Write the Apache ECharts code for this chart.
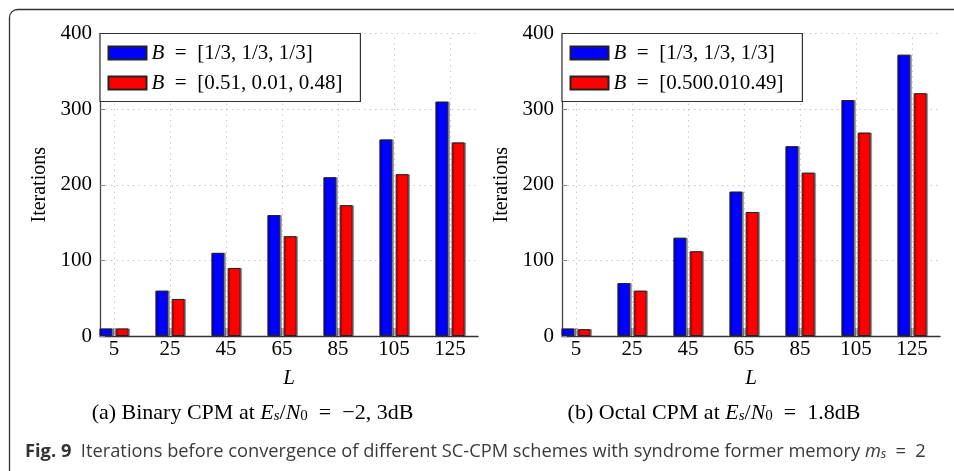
<!DOCTYPE html>
<html>
<head>
<meta charset="utf-8">
<script src="https://cdn.jsdelivr.net/npm/echarts@6/dist/echarts.min.js"></script>
<style>html,body{margin:0;padding:0;background:#fff}#c{width:954px;height:471px}</style>
</head>
<body>
<div id="c"></div>
<script>
// ---- data ----
const lengths = [5, 25, 45, 65, 85, 105, 125];
const binaryUniform = [10, 60, 110, 160, 210, 260, 310];
const binaryOptimized = [10, 49, 90, 132, 173, 214, 256];
const octalUniform = [10, 70, 130, 191, 251, 312, 372];
const octalOptimized = [9, 60, 112, 164, 216, 269, 321];
const yTicks = [0, 100, 200, 300, 400];
const nameUniform = 'B = [1/3, 1/3, 1/3]';
const nameBinaryOpt = 'B = [0.51, 0.01, 0.48]';
const nameOctalOpt = 'B = [0.500.010.49]';

const SERIF = '"Liberation Serif", "DejaVu Serif", serif';
const SANS = '"Open Sans", "Noto Sans", sans-serif';
const EN = '\u2002';

const pairs = vals => lengths.map((l, i) => [l, vals[i]]);

const chart = echarts.init(document.getElementById('c'), null, {renderer: 'canvas'});

function xAxisFor(gi) {
  return {
    type: 'value', gridIndex: gi, min: 0, max: 135,
    name: 'L', nameLocation: 'middle', nameGap: 32,
    nameTextStyle: {fontFamily: SERIF, fontSize: 21, fontStyle: 'italic', color: '#000'},
    axisLine: {show: true, onZero: false, lineStyle: {color: '#333', width: 1.3}},
    axisTick: {show: true, inside: true, length: 8, customValues: lengths, lineStyle: {color: '#aaa', width: 3}},
    axisLabel: {customValues: lengths, fontFamily: SERIF, fontSize: 21, color: '#000', margin: 3},
    splitLine: {show: false}
  };
}
function yAxisFor(gi) {
  return {
    type: 'value', gridIndex: gi, min: 0, max: 400, interval: 100,
    name: 'Iterations', nameLocation: 'middle', nameGap: 50, nameRotate: 90,
    nameTextStyle: {fontFamily: SERIF, fontSize: 20, color: '#000'},
    axisLine: {show: true, lineStyle: {color: '#444', width: 1.3}},
    axisTick: {show: true, inside: true, length: 5, lineStyle: {color: '#888'}},
    axisLabel: {customValues: yTicks, fontFamily: SERIF, fontSize: 21, color: '#000', margin: 8},
    splitLine: {show: true, lineStyle: {color: '#c8c8c8', type: [1.5, 4], width: 1}}
  };
}
function barSeries(name, vals, gi, color) {
  return {
    type: 'bar', name, xAxisIndex: gi, yAxisIndex: gi, data: pairs(vals),
    barWidth: 13, barGap: '25%', z: 3,
    itemStyle: {color, borderColor: '#222', borderWidth: 1,
      shadowColor: 'rgba(0,0,0,0.3)', shadowOffsetX: 1.5, shadowOffsetY: 0, shadowBlur: 0}
  };
}
function gridLines(gi) {
  return {
    type: 'line', xAxisIndex: gi, yAxisIndex: gi, data: [], silent: true, z: 1,
    markLine: {
      silent: true, symbol: ['none', 'none'], label: {show: false},
      lineStyle: {color: '#c8c8c8', type: [1.5, 4], width: 1},
      data: lengths.map(l => ({xAxis: l}))
    }
  };
}
function legendFor(names, left, padRight) {
  return {
    orient: 'vertical', left, top: 33.5, selectedMode: false,
    data: names, icon: 'rect', itemWidth: 38, itemHeight: 13, itemGap: 9,
    padding: [9, padRight, 8, 7.5], backgroundColor: '#fff',
    borderColor: '#333', borderWidth: 1.2, borderRadius: 0, z: 10,
    formatter: n => n.replace(/^B = /, '{i|B}' + EN + '=' + EN),
    textStyle: {fontFamily: SERIF, fontSize: 21, lineHeight: 20, color: '#000',
      rich: {i: {fontFamily: SERIF, fontSize: 21, fontStyle: 'italic', color: '#000'}}}
  };
}

const serifRich = {
  n: {fontFamily: SERIF, fontSize: 22, fill: '#000'},
  i: {fontFamily: SERIF, fontSize: 22, fontStyle: 'italic', fill: '#000'},
  s: {fontFamily: SERIF, fontSize: 15, fontStyle: 'italic', fill: '#000', verticalAlign: 'bottom'},
  z: {fontFamily: SERIF, fontSize: 15, fill: '#000', verticalAlign: 'bottom'}
};

chart.setOption({
  animation: false,
  grid: [
    {left: 100, width: 378, top: 33.5, height: 302.5},
    {left: 562, width: 378, top: 33.5, height: 302.5}
  ],
  xAxis: [xAxisFor(0), xAxisFor(1)],
  yAxis: [yAxisFor(0), yAxisFor(1)],
  legend: [
    legendFor([nameUniform, nameBinaryOpt], 100, 18),
    legendFor([nameUniform, nameOctalOpt], 562, 19)
  ],
  series: [
    gridLines(0), gridLines(1),
    barSeries(nameUniform, binaryUniform, 0, '#0000ff'),
    barSeries(nameBinaryOpt, binaryOptimized, 0, '#ff0000'),
    barSeries(nameUniform, octalUniform, 1, '#0000ff'),
    barSeries(nameOctalOpt, octalOptimized, 1, '#ff0000')
  ],
  graphic: [
    {type: 'rect', silent: true, z: 0,
      shape: {x: 9.5, y: 9.5, width: 1000, height: 600, r: 8},
      style: {fill: 'none', stroke: '#333', lineWidth: 1.3}},
    {type: 'text', x: 252.5, y: 413, silent: true,
      style: {text: '{n|(a) Binary CPM at }{i|E}{s|s}{n|/}{i|N}{z|0}{n|' + EN + '=' + EN + '−2, 3dB}',
        align: 'center', verticalAlign: 'middle', rich: serifRich}},
    {type: 'text', x: 714, y: 413, silent: true,
      style: {text: '{n|(b) Octal CPM at }{i|E}{s|s}{n|/}{i|N}{z|0}{n|' + EN + '=' + EN + '1.8dB}',
        align: 'center', verticalAlign: 'middle', rich: serifRich}},
    {type: 'text', x: 25, y: 452, silent: true,
      style: {text: '{b|Fig. 9}{n|  Iterations before convergence of different SC-CPM schemes with syndrome former memory }{i|m}{s|s}{n|' + EN + '=' + EN + '2}',
        align: 'left', verticalAlign: 'middle',
        rich: {
          b: {fontFamily: SANS, fontSize: 18.3, fontWeight: 'bold', fill: '#333'},
          n: {fontFamily: SANS, fontSize: 18.3, fill: '#3a3a3a'},
          i: {fontFamily: SANS, fontSize: 18.3, fontStyle: 'italic', fill: '#3a3a3a'},
          s: {fontFamily: SANS, fontSize: 13, fontStyle: 'italic', fill: '#3a3a3a', verticalAlign: 'bottom'}
        }}}
  ]
});
</script>
</body>
</html>
